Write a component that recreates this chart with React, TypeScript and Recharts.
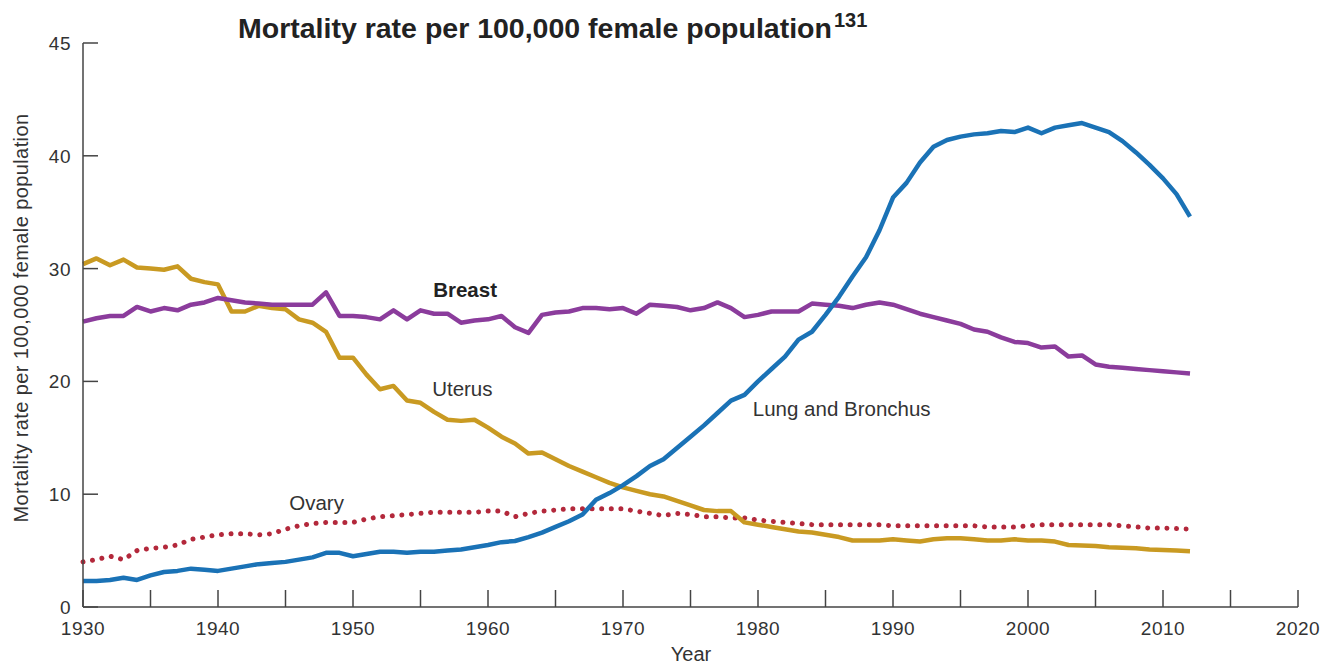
import React from 'react';
import { LineChart, Line, XAxis, YAxis, ReferenceDot } from 'recharts';

const years = Array.from({ length: 83 }, (_, i) => 1930 + i);

const lung = [
  2.3, 2.3, 2.4, 2.6, 2.4, 2.8, 3.1, 3.2, 3.4, 3.3,
  3.2, 3.4, 3.6, 3.8, 3.9, 4.0, 4.2, 4.4, 4.8, 4.8,
  4.5, 4.7, 4.9, 4.9, 4.8, 4.9, 4.9, 5.0, 5.1, 5.3,
  5.5, 5.75, 5.85, 6.2, 6.6, 7.1, 7.6, 8.2, 9.5, 10.1,
  10.8, 11.6, 12.5, 13.1, 14.1, 15.1, 16.1, 17.2, 18.3, 18.8,
  20.0, 21.1, 22.2, 23.7, 24.4, 25.9, 27.5, 29.3, 31.0, 33.4,
  36.3, 37.6, 39.4, 40.8, 41.4, 41.7, 41.9, 42.0, 42.2, 42.1,
  42.5, 42.0, 42.5, 42.7, 42.9, 42.5, 42.1, 41.3, 40.3, 39.2,
  38.0, 36.6, 34.6,
];

const breast = [
  25.3, 25.6, 25.8, 25.8, 26.6, 26.2, 26.5, 26.3, 26.8, 27.0,
  27.4, 27.2, 27.0, 26.9, 26.8, 26.8, 26.8, 26.8, 27.9, 25.8,
  25.8, 25.7, 25.5, 26.3, 25.5, 26.3, 26.0, 26.0, 25.2, 25.4,
  25.5, 25.8, 24.8, 24.3, 25.9, 26.1, 26.2, 26.5, 26.5, 26.4,
  26.5, 26.0, 26.8, 26.7, 26.6, 26.3, 26.5, 27.0, 26.5, 25.7,
  25.9, 26.2, 26.2, 26.2, 26.9, 26.8, 26.7, 26.5, 26.8, 27.0,
  26.8, 26.4, 26.0, 25.7, 25.4, 25.1, 24.6, 24.4, 23.9, 23.5,
  23.4, 23.0, 23.1, 22.2, 22.3, 21.5, 21.3, 21.2, 21.1, 21.0,
  20.9, 20.8, 20.7,
];

const uterus = [
  30.4, 30.9, 30.3, 30.8, 30.1, 30.0, 29.9, 30.2, 29.1, 28.8,
  28.6, 26.2, 26.2, 26.7, 26.5, 26.4, 25.5, 25.2, 24.4, 22.1,
  22.1, 20.6, 19.3, 19.6, 18.3, 18.1, 17.3, 16.6, 16.5, 16.6,
  15.9, 15.1, 14.5, 13.6, 13.7, 13.1, 12.5, 12.0, 11.5, 11.0,
  10.6, 10.3, 10.0, 9.8, 9.4, 9.0, 8.6, 8.5, 8.5, 7.5,
  7.3, 7.1, 6.9, 6.7, 6.6, 6.4, 6.2, 5.9, 5.9, 5.9,
  6.0, 5.9, 5.8, 6.0, 6.1, 6.1, 6.0, 5.9, 5.9, 6.0,
  5.9, 5.9, 5.8, 5.5, 5.45, 5.4, 5.3, 5.25, 5.2, 5.1,
  5.05, 5.0, 4.95,
];

const ovary = [
  4.0, 4.2, 4.5, 4.2, 5.0, 5.2, 5.3, 5.5, 6.0, 6.2,
  6.4, 6.5, 6.5, 6.4, 6.5, 6.9, 7.2, 7.4, 7.5, 7.5,
  7.5, 7.8, 8.0, 8.1, 8.2, 8.3, 8.4, 8.4, 8.4, 8.4,
  8.5, 8.5, 8.0, 8.3, 8.5, 8.6, 8.7, 8.7, 8.7, 8.7,
  8.7, 8.5, 8.3, 8.1, 8.3, 8.2, 8.0, 8.0, 7.9, 7.9,
  7.7, 7.6, 7.5, 7.4, 7.3, 7.3, 7.3, 7.3, 7.3, 7.3,
  7.2, 7.2, 7.2, 7.2, 7.2, 7.2, 7.2, 7.1, 7.1, 7.1,
  7.2, 7.3, 7.3, 7.3, 7.3, 7.3, 7.3, 7.2, 7.1, 7.0,
  7.0, 6.95, 6.9,
];

const xTicks = [1930, 1935, 1940, 1945, 1950, 1955, 1960, 1965, 1970, 1975, 1980, 1985, 1990, 1995, 2000, 2005, 2010, 2015, 2020];
const yTicks = [0, 10, 20, 30, 40, 50];
const yTickLabels = ['0', '10', '20', '30', '40', '45'];

const data = years.map((year, i) => ({
  year,
  lung: lung[i],
  breast: breast[i],
  uterus: uterus[i],
  ovary: ovary[i],
}));

const FONT = '"Liberation Sans", Arial, Helvetica, sans-serif';
const AXIS = '#444';
const TEXT = '#333';

const XTick = ({ x, y, payload }: any) => (
  <g>
    <line x1={x} x2={x} y1={y} y2={y - 17} stroke={AXIS} strokeWidth={1.5} />
    {payload.value % 10 === 0 && (
      <text x={x} y={y + 28} textAnchor="middle" fontSize={19} letterSpacing={0.5} fill={TEXT} fontFamily={FONT}>
        {payload.value}
      </text>
    )}
  </g>
);

const YTick = ({ x, y, payload, index }: any) => (
  <g>
    <line x1={x} x2={x + 15} y1={y} y2={y} stroke={AXIS} strokeWidth={1.5} />
    <text x={x - 12} y={y + 7} textAnchor="end" fontSize={19} letterSpacing={0.5} fill={TEXT} fontFamily={FONT}>
      {yTickLabels[index] ?? payload.value}
    </text>
  </g>
);

const seriesLabel = (text: string, bold = false) => (props: any) => {
  const vb = props.viewBox || {};
  const cx = (vb.x || 0) + (vb.width || 0) / 2;
  const cy = (vb.y || 0) + (vb.height || 0) / 2;
  return (
    <text x={cx} y={cy + 7} textAnchor="middle" fontSize={20.5} fontWeight={bold ? 'bold' : 'normal'} fill={bold ? '#222' : TEXT} fontFamily={FONT}>
      {text}
    </text>
  );
};

export default function App() {
  return (
    <div style={{ position: 'absolute', left: 0, top: 0, width: 1338, height: 664, background: '#fff', fontFamily: FONT }}>
      <LineChart width={1338} height={664} data={data} margin={{ top: 43, right: 40, bottom: 0, left: 0 }}>
        <XAxis
          dataKey="year"
          type="number"
          domain={[1930, 2020]}
          ticks={xTicks}
          interval={0}
          height={57}
          tickSize={0}
          tickMargin={0}
          axisLine={{ stroke: AXIS, strokeWidth: 1.5 }}
          tickLine={false}
          tick={<XTick />}
        />
        <YAxis
          type="number"
          domain={[0, 50]}
          ticks={yTicks}
          interval={0}
          width={83}
          tickSize={0}
          tickMargin={0}
          axisLine={{ stroke: AXIS, strokeWidth: 1.5 }}
          tickLine={false}
          tick={<YTick />}
        />
        <Line dataKey="ovary" type="linear" stroke="#b3283b" strokeWidth={5} strokeDasharray="0.01 9.6" strokeLinecap="round" dot={false} isAnimationActive={false} />
        <Line dataKey="uterus" type="linear" stroke="#c99a22" strokeWidth={4.5} strokeLinejoin="round" dot={false} isAnimationActive={false} />
        <Line dataKey="breast" type="linear" stroke="#8b3c9c" strokeWidth={4.5} strokeLinejoin="round" dot={false} isAnimationActive={false} />
        <Line dataKey="lung" type="linear" stroke="#1a72b6" strokeWidth={4.5} strokeLinejoin="round" dot={false} isAnimationActive={false} />
        <ReferenceDot x={1958.3} y={28.1} r={0} label={seriesLabel('Breast', true)} />
        <ReferenceDot x={1958.1} y={19.3} r={0} label={seriesLabel('Uterus')} />
        <ReferenceDot x={1986.2} y={17.55} r={0} label={seriesLabel('Lung and Bronchus')} />
        <ReferenceDot x={1947.3} y={9.2} r={0} label={seriesLabel('Ovary')} />
      </LineChart>
      <svg width={1338} height={664} style={{ position: 'absolute', left: 0, top: 0, pointerEvents: 'none' }}>
        <text x={238} y={38} fontSize={28.5} fontWeight="bold" fill="#222" fontFamily={FONT}>
          Mortality rate per 100,000 female population
          <tspan fontSize={20} dx={2} dy={-11}>131</tspan>
        </text>
        <text x={28} y={318} transform="rotate(-90 28 318)" textAnchor="middle" fontSize={20} letterSpacing={0.4} fill={TEXT} fontFamily={FONT}>
          Mortality rate per 100,000 female population
        </text>
        <text x={691} y={661} textAnchor="middle" fontSize={20} fill={TEXT} fontFamily={FONT}>
          Year
        </text>
      </svg>
    </div>
  );
}
